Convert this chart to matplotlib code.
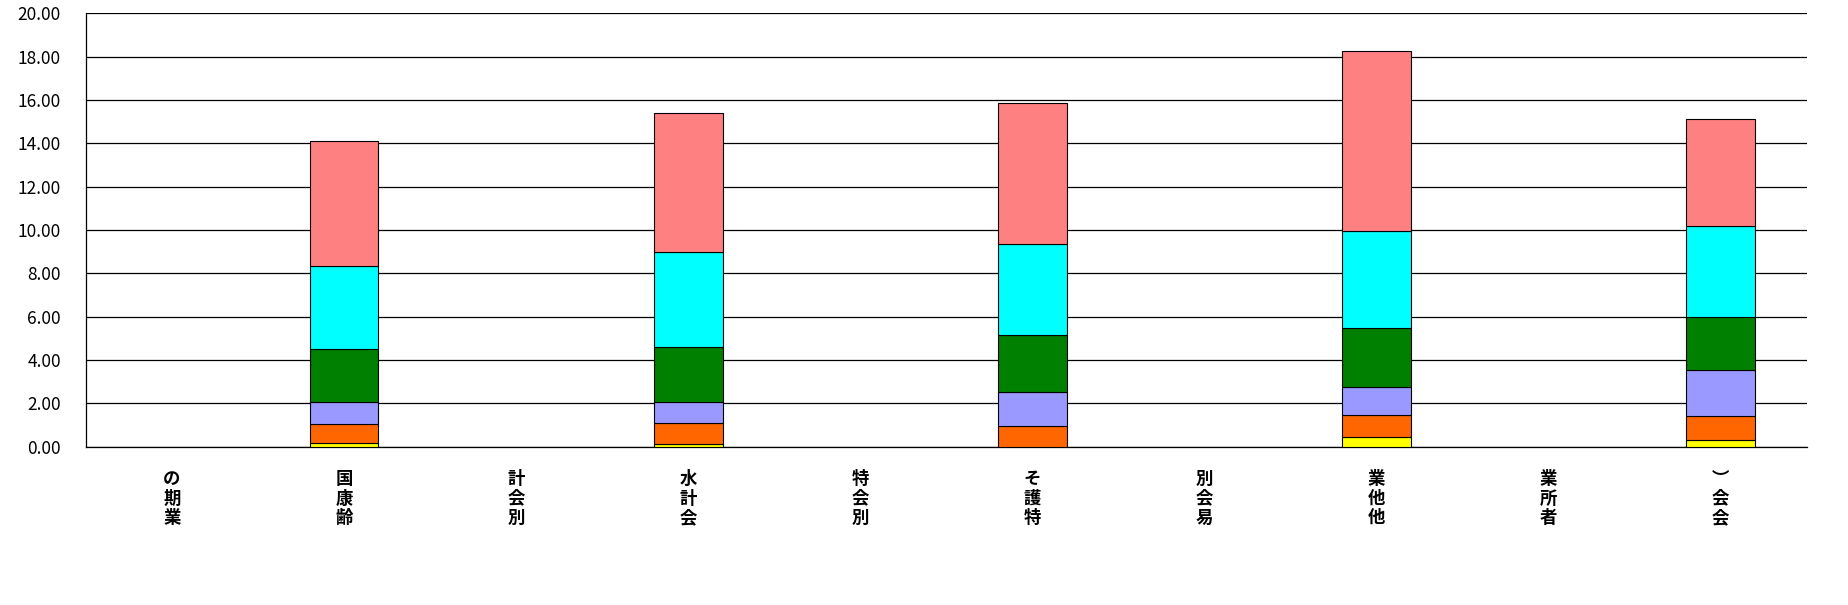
import numpy as np
import matplotlib
matplotlib.use("Agg")
import matplotlib.pyplot as plt

plt.rcParams['font.family'] = ['Noto Sans CJK JP', 'DejaVu Sans']

# categories (vertical labels, one character per line)
categories = ["の期業", "国康齢", "計会別", "水計会", "特会別",
              "そ護特", "別会易", "業他他", "業所者", "︶会会"]

# stacked series, bottom to top (0 = no bar in that category)
s_yellow = [0, 0.18, 0, 0.11, 0, 0.00, 0, 0.43, 0, 0.30]
s_orange = [0, 0.88, 0, 0.97, 0, 0.97, 0, 1.02, 0, 1.10]
s_lav    = [0, 1.02, 0, 1.00, 0, 1.57, 0, 1.29, 0, 2.13]
s_green  = [0, 2.41, 0, 2.53, 0, 2.60, 0, 2.72, 0, 2.44]
s_cyan   = [0, 3.86, 0, 4.39, 0, 4.23, 0, 4.51, 0, 4.23]
s_pink   = [0, 5.77, 0, 6.41, 0, 6.50, 0, 8.30, 0, 4.91]

series = [s_yellow, s_orange, s_lav, s_green, s_cyan, s_pink]
colors = ["#FFFF00", "#FF6600", "#9999FF", "#008000", "#00FFFF", "#FF8080"]

fig = plt.figure(figsize=(18.48, 6.05), dpi=100)
ax = fig.add_axes([0.0465, 0.2617, 0.9311, 0.7163])

x = np.arange(len(categories))
totals = np.sum(series, axis=0)
has_bar = totals > 0
bottom = np.zeros(len(categories))
for vals, c in zip(series, colors):
    vals = np.array(vals, dtype=float)
    ax.bar(x[has_bar], vals[has_bar], width=0.4, bottom=bottom[has_bar],
           color=c, edgecolor="black", linewidth=0.8, zorder=3)
    bottom += vals

ax.set_xlim(-0.5, len(categories) - 0.5)
ax.set_ylim(0, 20)
ax.set_yticks(np.arange(0, 20.01, 2))
ax.set_yticklabels([f"{v:.2f}" for v in np.arange(0, 20.01, 2)], fontsize=12.5)
ax.yaxis.grid(True, color="black", linewidth=0.9)
ax.set_axisbelow(True)

ax.set_xticks(x)
ax.set_xticklabels(["\n".join(c) for c in categories], fontsize=12.5,
                   fontweight="bold", linespacing=1.1)
ax.tick_params(axis="x", length=0, pad=17)
ax.tick_params(axis="y", length=0, pad=18)

for side in ["top", "right"]:
    ax.spines[side].set_visible(False)
ax.spines["left"].set_linewidth(0.9)
ax.spines["bottom"].set_linewidth(0.9)

fig.savefig("out.png", dpi=100, facecolor="white")
